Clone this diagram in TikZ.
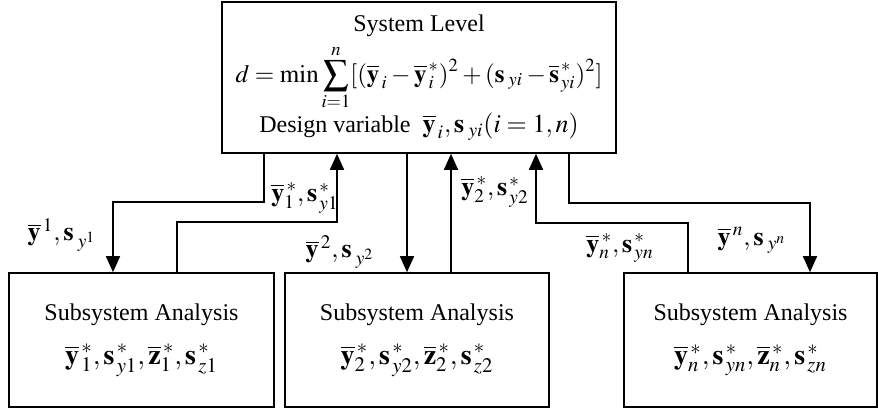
\documentclass[tikz,border=0pt]{standalone}
\usepackage{mathptmx}
\usepackage{fontspec}
\setmainfont{Liberation Serif}
\usetikzlibrary{arrows.meta, positioning, calc}

\begin{document}
\begin{tikzpicture}[x=0.5pt, y=-0.5pt,
  box/.style={rectangle, draw, line width=0.8pt, inner sep=0pt, align=center,
              font=\fontsize{12}{14}\selectfont},
  arr/.style={-{Triangle[width=7pt,length=8pt]}, line width=0.8pt},
  lbl/.style={font=\fontsize{13}{15}\selectfont, inner sep=0pt},
]
\useasboundingbox (0,0) rectangle (878,408);
\node[box, minimum width=197pt, minimum height=75.5pt] (sys) at (419,77.5)
  {System Level\\[3pt]
   {\fontsize{12.5}{14}\selectfont$\displaystyle d=\min\sum_{i=1}^{n}[(\overline{\mathbf{y}}_{\,i}-\overline{\mathbf{y}}^{\,*}_{\,i})^2+(\mathbf{s}_{\;yi}-\overline{\mathbf{s}}^{\,*}_{\,yi})^2]$}\\[0pt]
   Design variable \ {\fontsize{13}{15}\selectfont$\overline{\mathbf{y}}_{\,i},\mathbf{s}_{\;yi}(i=1,n)$}};
\node[box, minimum width=132.5pt, minimum height=67pt] (sub1) at (141.5,340)
  {Subsystem Analysis\\[8pt]
   {\fontsize{14}{16}\selectfont$\overline{\mathbf{y}}^{\,*}_{\,1},\mathbf{s}^{\,*}_{\,y1},\overline{\mathbf{z}}^{\,*}_{1},\mathbf{s}^{\,*}_{\,z1}$}};
\node[box, minimum width=132pt, minimum height=67pt] (sub2) at (417,340)
  {Subsystem Analysis\\[8pt]
   {\fontsize{14}{16}\selectfont$\overline{\mathbf{y}}^{\,*}_{2},\mathbf{s}^{\,*}_{\,y2},\overline{\mathbf{z}}^{\,*}_{2},\mathbf{s}^{\,*}_{\,z2}$}};
\node[box, minimum width=126.5pt, minimum height=67pt] (subn) at (750.5,340)
  {Subsystem Analysis\\[8pt]
   {\fontsize{14}{16}\selectfont$\overline{\mathbf{y}}^{\,*}_{n},\mathbf{s}^{\,*}_{\,yn},\overline{\mathbf{z}}^{\,*}_{n},\mathbf{s}^{\,*}_{\,zn}$}};

% bends of the connectors
\coordinate (o1) at (264,202);
\coordinate (c1) at (113,202);
\coordinate (r1) at (177,222);
\coordinate (u1) at (337,222);
\coordinate (d2) at (407,0);
\coordinate (u2) at (451,0);
\coordinate (rn) at (688,223);
\coordinate (un) at (536,223);
\coordinate (on) at (569,203);
\coordinate (cn) at (810,203);

\draw[arr] (sys.south -| o1) |- (c1) -- (sub1.north -| c1);
\draw[arr] (sub1.north -| r1) |- (u1) -- (sys.south -| u1);
\draw[arr] (sys.south -| d2) -- (sub2.north -| d2);
\draw[arr] (sub2.north -| u2) -- (sys.south -| u2);
\draw[arr] (subn.north -| rn) |- (un) -- (sys.south -| un);
\draw[arr] (sys.south -| on) |- (cn) -- (subn.north -| cn);

\node[lbl] (l1)  at (62,235)  {$\overline{\mathbf{y}}^{\,1},\mathbf{s}_{\;y^{1}}$};
\node[lbl] (l1s) at (305,198) {$\overline{\mathbf{y}}^{\,*}_{1},\mathbf{s}^{\,*}_{\,y1}$};
\node[lbl] (l2)  at (340,252) {$\overline{\mathbf{y}}^{\,2},\mathbf{s}_{\;y^{2}}$};
\node[lbl] (l2s) at (495,192) {$\overline{\mathbf{y}}^{\,*}_{2},\mathbf{s}^{\,*}_{\,y2}$};
\node[lbl] (lns) at (620,248) {$\overline{\mathbf{y}}^{\,*}_{n},\mathbf{s}^{\,*}_{\,yn}$};
\node[lbl] (ln)  at (752,240) {$\overline{\mathbf{y}}^{\,n},\mathbf{s}_{\;y^{n}}$};
\end{tikzpicture}
\end{document}
